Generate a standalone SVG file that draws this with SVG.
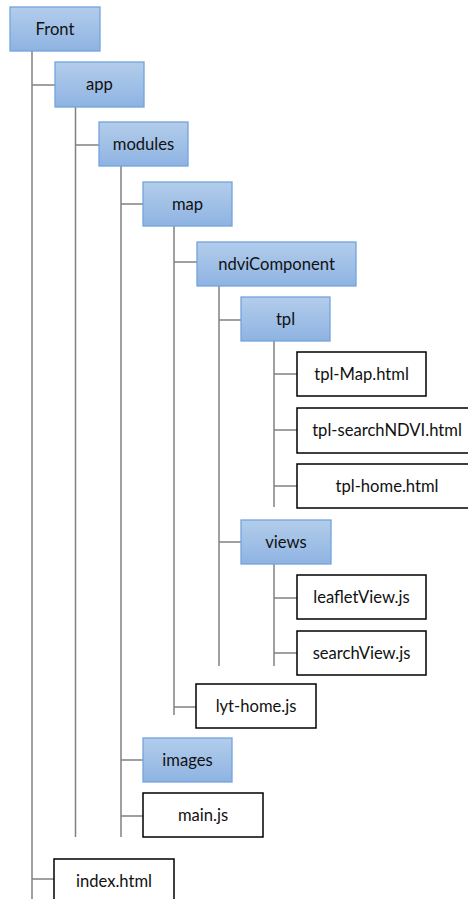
<svg xmlns="http://www.w3.org/2000/svg" width="468" height="899" viewBox="0 0 468 899">
<defs>
<linearGradient id="g" x1="0" y1="0" x2="0" y2="1">
<stop offset="0" stop-color="#b3cdeb"/>
<stop offset="1" stop-color="#8eb3e2"/>
</linearGradient>
</defs>
<style>
.f{fill:url(#g);stroke:#74a4dc;stroke-width:1.3}
.w{fill:#fff;stroke:#000;stroke-width:1.5}
text{font-family:Lato,"Open Sans","Liberation Sans",sans-serif;font-size:16.6px;fill:#111;text-anchor:middle}
.c line{stroke:#808080;stroke-width:1.5}
</style>
<rect width="468" height="899" fill="#fff"/>
<g id="connectors" class="c">
<line x1="32" y1="51" x2="32" y2="899"/>
<line x1="32" y1="85" x2="55" y2="85"/>
<line x1="32" y1="879" x2="54" y2="879"/>
<line x1="75.5" y1="107" x2="75.5" y2="837"/>
<line x1="75.5" y1="145" x2="99" y2="145"/>
<line x1="121" y1="166" x2="121" y2="837"/>
<line x1="121" y1="204" x2="143" y2="204"/>
<line x1="121" y1="760" x2="143" y2="760"/>
<line x1="121" y1="816" x2="143" y2="816"/>
<line x1="174" y1="226" x2="174" y2="715"/>
<line x1="174" y1="262" x2="197" y2="262"/>
<line x1="174" y1="707" x2="196" y2="707"/>
<line x1="219" y1="286" x2="219" y2="666"/>
<line x1="219" y1="320" x2="241" y2="320"/>
<line x1="219" y1="542" x2="241" y2="542"/>
<line x1="274" y1="341" x2="274" y2="507"/>
<line x1="274" y1="374" x2="297" y2="374"/>
<line x1="274" y1="430" x2="297" y2="430"/>
<line x1="274" y1="486" x2="297" y2="486"/>
<line x1="274" y1="564" x2="274" y2="666"/>
<line x1="274" y1="598" x2="297" y2="598"/>
<line x1="274" y1="653" x2="297" y2="653"/>
</g>
<g id="front"><rect class="f" x="10" y="7" width="90" height="44"/><text x="55" y="35">Front</text></g>
<g id="app"><rect class="f" x="55" y="62" width="89" height="45"/><text x="99.5" y="90">app</text></g>
<g id="modules"><rect class="f" x="99" y="122" width="89" height="44"/><text x="143.5" y="150">modules</text></g>
<g id="map"><rect class="f" x="143" y="182" width="89" height="44"/><text x="187.5" y="210">map</text></g>
<g id="ndviComponent"><rect class="f" x="197" y="242" width="159" height="44"/><text x="276.5" y="270">ndviComponent</text></g>
<g id="tpl"><rect class="f" x="241" y="297" width="89" height="44"/><text x="285.5" y="325">tpl</text></g>
<g id="tpl-map"><rect class="w" x="297" y="352" width="129" height="44"/><text x="361.5" y="380">tpl-Map.html</text></g>
<g id="tpl-searchNDVI"><rect class="w" x="297" y="408" width="180" height="45"/><text x="387" y="436">tpl-searchNDVI.html</text></g>
<g id="tpl-home"><rect class="w" x="297" y="464" width="180" height="44"/><text x="387" y="492">tpl-home.html</text></g>
<g id="views"><rect class="f" x="241" y="520" width="90" height="44"/><text x="286" y="548">views</text></g>
<g id="leafletView"><rect class="w" x="297" y="575" width="129" height="44"/><text x="361.5" y="603">leafletView.js</text></g>
<g id="searchView"><rect class="w" x="297" y="631" width="129" height="44"/><text x="361.5" y="659">searchView.js</text></g>
<g id="lyt-home"><rect class="w" x="196" y="684" width="120" height="44"/><text x="256" y="712">lyt-home.js</text></g>
<g id="images"><rect class="f" x="143" y="738" width="89" height="44"/><text x="187.5" y="766">images</text></g>
<g id="main"><rect class="w" x="143" y="793" width="120" height="44"/><text x="203" y="821">main.js</text></g>
<g id="index"><rect class="w" x="54" y="859" width="120" height="46"/><text x="114" y="887">index.html</text></g>
</svg>
